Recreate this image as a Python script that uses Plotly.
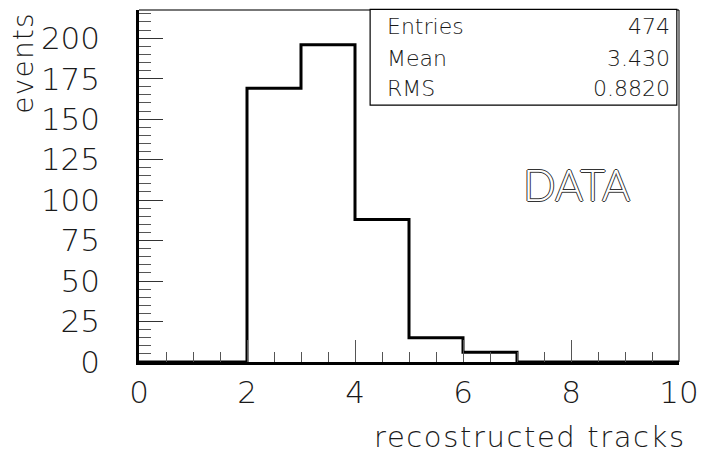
import plotly.graph_objects as go

# Histogram of reconstructed track multiplicity (unit-width bins over 0..10)
bin_edges = [0, 1, 2, 3, 4, 5, 6, 7, 8, 9, 10]
counts = [0, 0, 169, 196, 88, 15, 6, 0, 0, 0]

stat_labels = ["Entries", "Mean", "RMS"]
stat_values = ["474", "3.430", "0.8820"]

x_ticks = [0, 2, 4, 6, 8, 10]
y_ticks = [0, 25, 50, 75, 100, 125, 150, 175, 200]

x_title = "recostructed tracks"
y_title = "events"
tag_text = "DATA"

FONT = "DejaVu Sans"
INK = "#1a1a1a"


def spaced(text, px):
    return f'<span style="letter-spacing:{px}px">{text}</span>'


# step outline: repeat the last count so the final bin closes at the upper edge
step_x = list(bin_edges)
step_y = list(counts) + [counts[-1]]

fig = go.Figure()
fig.add_trace(go.Scatter(
    x=step_x, y=step_y, mode="lines",
    line=dict(shape="hv", color="black", width=3),
    hoverinfo="skip", showlegend=False,
))

axis_font = dict(family=FONT, size=31, color=INK, weight=200)

fig.update_layout(
    width=709, height=454,
    margin=dict(l=139, r=21, t=10, b=92),
    paper_bgcolor="white", plot_bgcolor="white",
    showlegend=False,
    xaxis=dict(
        range=[0, 10], showgrid=False, zeroline=False,
        showline=True, linecolor="black", linewidth=2.5,
        tickmode="array", tickvals=x_ticks, ticktext=[str(v) for v in x_ticks],
        ticks="inside", ticklen=22, tickwidth=1.2, tickcolor="#555",
        minor=dict(dtick=0.5, ticks="inside", ticklen=10, tickwidth=1.2, tickcolor="#555"),
        tickfont=axis_font, ticklabelstandoff=1,
    ),
    yaxis=dict(
        range=[0, 217.4], showgrid=False, zeroline=False,
        showline=True, linecolor="black", linewidth=2.5,
        tickmode="array", tickvals=y_ticks, ticktext=[str(v) for v in y_ticks],
        ticks="inside", ticklen=24, tickwidth=1.2, tickcolor="#333",
        minor=dict(dtick=5, ticks="inside", ticklen=12, tickwidth=1.2, tickcolor="#555"),
        tickfont=axis_font, ticklabelstandoff=30,
    ),
)

# frame: grey top edge, thin right edge
fig.add_shape(type="line", xref="paper", yref="paper", x0=0, x1=1, y0=1, y1=1,
              line=dict(color="#777", width=2))
fig.add_shape(type="line", xref="paper", yref="paper", x0=1, x1=1, y0=0, y1=1,
              line=dict(color="black", width=1))

# statistics box
fig.add_shape(type="rect", xref="paper", yref="paper",
              x0=0.428, x1=0.996, y0=0.730, y1=1.002,
              line=dict(color="black", width=1.2), fillcolor="white", layer="above")
row_y = [0.953, 0.862, 0.777]
stat_font = dict(family=FONT, size=22, color=INK, weight=200)
for lab, val, yy in zip(stat_labels, stat_values, row_y):
    fig.add_annotation(x=0.455, y=yy, xref="paper", yref="paper", text=lab,
                       showarrow=False, xanchor="left", yanchor="middle", font=stat_font)
    fig.add_annotation(x=0.970, y=yy, xref="paper", yref="paper", text=val, xshift=9,
                       showarrow=False, xanchor="right", yanchor="middle", font=stat_font)

# axis titles
fig.add_annotation(x=1.0, y=-0.213, xref="paper", yref="paper", text=spaced(x_title, 1.6),
                   xshift=9, showarrow=False, xanchor="right", yanchor="middle",
                   font=dict(family=FONT, size=29, color=INK, weight=200))
fig.add_annotation(x=-0.219, y=1.0, xref="paper", yref="paper", text=spaced(y_title, 1.2),
                   xshift=2, showarrow=False, xanchor="center", yanchor="top", textangle=-90,
                   font=dict(family=FONT, size=28, color=INK, weight=200))

# outlined sample tag
fig.add_annotation(x=0.799, y=0.503, xref="paper", yref="paper", text=tag_text, xshift=6,
                   showarrow=False, xanchor="center", yanchor="middle",
                   font=dict(family="Lato", size=43, color="white", weight=300,
                             shadow="1px 0 0 #333, -1px 0 0 #333, 0 1px 0 #333, 0 -1px 0 #333"))

fig.write_html("out.html")
